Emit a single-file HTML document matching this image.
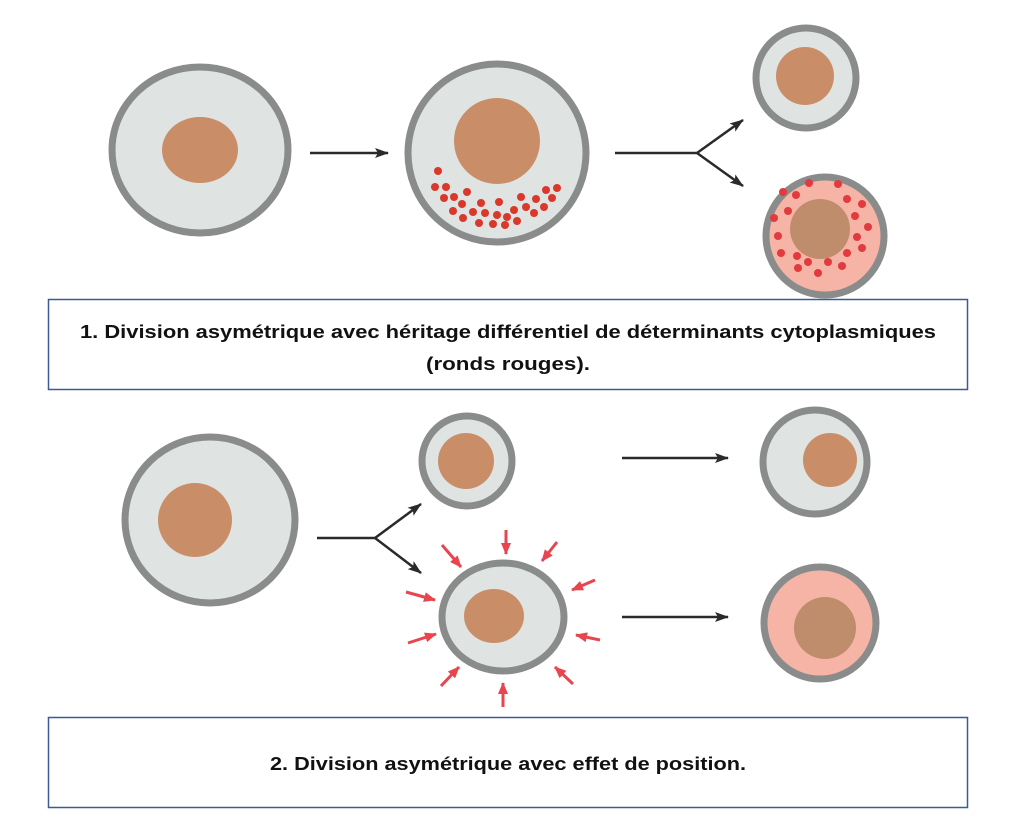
<!DOCTYPE html>
<html><head><meta charset="utf-8"><style>
html,body{margin:0;padding:0;background:#fff;width:1014px;height:835px;overflow:hidden}
text{font-family:"Liberation Sans",sans-serif;font-weight:bold;font-size:18px;fill:#111}
</style></head><body>
<svg width="1014" height="835" viewBox="0 0 1014 835" xmlns="http://www.w3.org/2000/svg">
<defs>
<marker id="ah" markerWidth="14" markerHeight="10" refX="13" refY="5" orient="auto" markerUnits="userSpaceOnUse">
<path d="M0,0 L14,5 L0,10 L3,5 Z" fill="#2a2a2a"/></marker>
<marker id="rh" markerWidth="12" markerHeight="10" refX="11" refY="5" orient="auto" markerUnits="userSpaceOnUse">
<path d="M0,0 L12,5 L0,10 Z" fill="#e8464f"/></marker>
</defs>
<g stroke="#8a8c8c" stroke-width="7">
<ellipse cx="200" cy="150" rx="88" ry="83" fill="#dfe3e1"/>
<circle cx="497" cy="153" r="89" fill="#dfe3e1"/>
<circle cx="806" cy="78" r="50" fill="#dfe3e1"/>
<circle cx="825" cy="236" r="59" fill="#f6b4a6"/>
<ellipse cx="210" cy="520" rx="85" ry="83" fill="#dfe3e1"/>
<circle cx="467" cy="461" r="45" fill="#dfe3e1"/>
<ellipse cx="503" cy="617" rx="61" ry="54" fill="#dfe3e1"/>
<circle cx="815" cy="462" r="52" fill="#dfe3e1"/>
<circle cx="820" cy="623" r="56" fill="#f6b4a6"/>
</g>
<g fill="#c98e68">
<ellipse cx="200" cy="150" rx="38" ry="33"/>
<circle cx="497" cy="141" r="43"/>
<circle cx="805" cy="76" r="29"/>
<circle cx="820" cy="229" r="30" fill="#bf8d6c"/>
<circle cx="195" cy="520" r="37"/>
<circle cx="466" cy="461" r="28"/>
<ellipse cx="494" cy="616" rx="30" ry="27"/>
<circle cx="830" cy="460" r="27"/>
<circle cx="825" cy="628" r="31" fill="#bf8d6c"/>
</g>
<g fill="#d9382a">
<circle cx="438" cy="171" r="4"/><circle cx="435" cy="187" r="4"/><circle cx="446" cy="187" r="4"/><circle cx="444" cy="198" r="4"/><circle cx="454" cy="197" r="4"/><circle cx="467" cy="192" r="4"/><circle cx="462" cy="204" r="4"/><circle cx="453" cy="211" r="4"/><circle cx="463" cy="218" r="4"/><circle cx="473" cy="212" r="4"/><circle cx="481" cy="203" r="4"/><circle cx="485" cy="213" r="4"/><circle cx="479" cy="223" r="4"/><circle cx="493" cy="224" r="4"/><circle cx="499" cy="202" r="4"/><circle cx="497" cy="215" r="4"/><circle cx="507" cy="217" r="4"/><circle cx="505" cy="225" r="4"/><circle cx="514" cy="210" r="4"/><circle cx="517" cy="221" r="4"/><circle cx="521" cy="197" r="4"/><circle cx="526" cy="207" r="4"/><circle cx="534" cy="213" r="4"/><circle cx="536" cy="199" r="4"/><circle cx="544" cy="207" r="4"/><circle cx="546" cy="190" r="4"/><circle cx="552" cy="198" r="4"/><circle cx="557" cy="188" r="4"/>
</g>
<g fill="#e23a3e">
<circle cx="783" cy="192" r="4"/><circle cx="809" cy="183" r="4"/><circle cx="838" cy="184" r="4"/><circle cx="796" cy="195" r="4"/><circle cx="847" cy="199" r="4"/><circle cx="862" cy="204" r="4"/><circle cx="788" cy="211" r="4"/><circle cx="855" cy="216" r="4"/><circle cx="774" cy="218" r="4"/><circle cx="868" cy="227" r="4"/><circle cx="778" cy="236" r="4"/><circle cx="857" cy="237" r="4"/><circle cx="862" cy="248" r="4"/><circle cx="781" cy="253" r="4"/><circle cx="847" cy="253" r="4"/><circle cx="797" cy="256" r="4"/><circle cx="808" cy="262" r="4"/><circle cx="828" cy="262" r="4"/><circle cx="842" cy="266" r="4"/><circle cx="798" cy="268" r="4"/><circle cx="818" cy="273" r="4"/>
</g>
<g stroke="#2a2a2a" stroke-width="2.5" fill="none">
<line x1="310" y1="153" x2="388" y2="153" marker-end="url(#ah)"/>
<polyline points="615,153 697,153"/>
<line x1="697" y1="153" x2="743" y2="120" marker-end="url(#ah)"/>
<line x1="697" y1="153" x2="743" y2="186" marker-end="url(#ah)"/>
<polyline points="317,538 375,538"/>
<line x1="375" y1="538" x2="421" y2="504" marker-end="url(#ah)"/>
<line x1="375" y1="538" x2="421" y2="573" marker-end="url(#ah)"/>
<line x1="622" y1="458" x2="728" y2="458" marker-end="url(#ah)"/>
<line x1="622" y1="617" x2="728" y2="617" marker-end="url(#ah)"/>
</g>
<g stroke="#e8464f" stroke-width="3">
<line x1="506" y1="530" x2="506" y2="554" marker-end="url(#rh)"/>
<line x1="557" y1="542" x2="542" y2="561" marker-end="url(#rh)"/>
<line x1="595" y1="580" x2="572" y2="590" marker-end="url(#rh)"/>
<line x1="600" y1="640" x2="576" y2="635" marker-end="url(#rh)"/>
<line x1="573" y1="684" x2="555" y2="667" marker-end="url(#rh)"/>
<line x1="503" y1="707" x2="503" y2="683" marker-end="url(#rh)"/>
<line x1="441" y1="686" x2="459" y2="667" marker-end="url(#rh)"/>
<line x1="408" y1="643" x2="436" y2="634" marker-end="url(#rh)"/>
<line x1="406" y1="592" x2="435" y2="600" marker-end="url(#rh)"/>
<line x1="442" y1="545" x2="461" y2="567" marker-end="url(#rh)"/>
</g>
<rect x="48.5" y="299.5" width="919" height="90" fill="none" stroke="#3d5a96" stroke-width="1.5"/>
<rect x="48.5" y="717.5" width="919" height="90" fill="none" stroke="#3d5a96" stroke-width="1.5"/>
<text x="508" y="338" text-anchor="middle" textLength="856" lengthAdjust="spacingAndGlyphs">1. Division asymétrique avec héritage différentiel de déterminants cytoplasmiques</text>
<text x="508" y="370" text-anchor="middle" textLength="164" lengthAdjust="spacingAndGlyphs">(ronds rouges).</text>
<text x="508" y="770" text-anchor="middle" textLength="476" lengthAdjust="spacingAndGlyphs">2. Division asymétrique avec effet de position.</text>
</svg>
</body></html>
